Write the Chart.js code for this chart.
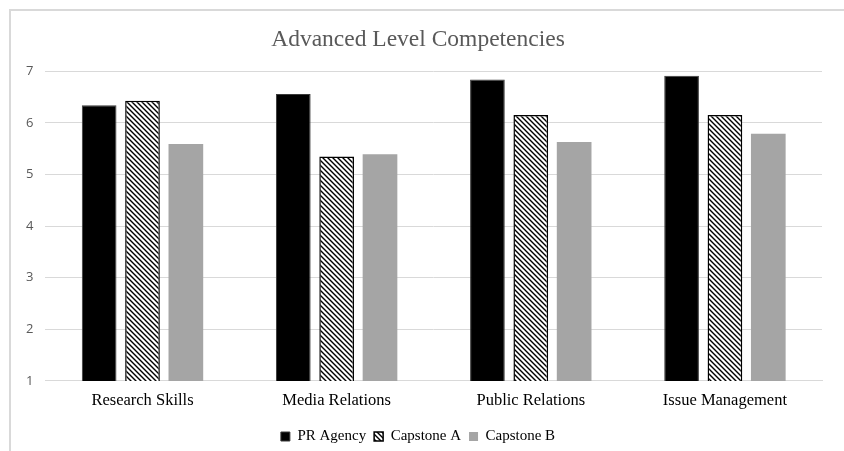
<!DOCTYPE html>
<html>
<head>
<meta charset="utf-8">
<script src="https://cdn.jsdelivr.net/npm/chart.js@4.4.1/dist/chart.umd.min.js"></script>
<style>
  html, body { margin: 0; padding: 0; background: #fff; overflow: hidden; }
  #frame { position: absolute; left: 9px; top: 9px; width: 900px; height: 500px; border: 2px solid #d9d9d9; }
  #wrap { position: absolute; left: 0; top: 0; width: 844px; height: 451px; }
</style>
</head>
<body>
<div id="frame"></div>
<div id="wrap"><canvas id="chart"></canvas></div>
<script>
  // chart values
  const categories = ['Research Skills', 'Media Relations', 'Public Relations', 'Issue Management'];
  const prAgency = [6.34, 6.56, 6.84, 6.91];
  const capstoneA = [6.43, 5.35, 6.15, 6.15];
  const capstoneB = [5.59, 5.39, 5.63, 5.79];
  const yTicks = [1, 2, 3, 4, 5, 6, 7];

  // diagonal hatch like the original (lines run top-left to bottom-right)
  function makeHatch() {
    const size = 5;
    const c = document.createElement('canvas');
    c.width = size;
    c.height = size;
    const g = c.getContext('2d');
    g.fillStyle = '#fff';
    g.fillRect(0, 0, size, size);
    g.strokeStyle = '#000';
    g.lineWidth = 1.4;
    g.beginPath();
    g.moveTo(-1, -1); g.lineTo(size + 1, size + 1);
    g.moveTo(-1, size - 1); g.lineTo(1, size + 1);
    g.moveTo(size - 1, -1); g.lineTo(size + 1, 1);
    g.stroke();
    return g.createPattern(c, 'repeat');
  }
  const hatch = makeHatch();

  const serif = '"Liberation Serif", "Times New Roman", serif';

  const ctx = document.getElementById('chart').getContext('2d');
  new Chart(ctx, {
    type: 'bar',
    data: {
      labels: categories,
      datasets: [
        { label: 'PR Agency', data: prAgency, backgroundColor: '#000', borderColor: '#3a3a3a', borderWidth: 1 },
        { label: 'Capstone A', data: capstoneA, backgroundColor: hatch, borderColor: '#000', borderWidth: 1.5 },
        { label: 'Capstone B', data: capstoneB, backgroundColor: '#a5a5a5', borderWidth: 0 }
      ]
    },
    options: {
      responsive: true,
      maintainAspectRatio: false,
      animation: false,
      categoryPercentage: 0.67,
      barPercentage: 0.8,
      layout: { padding: { left: 14, right: 22, top: 0, bottom: -3 } },
      scales: {
        x: {
          grid: { display: false, drawTicks: false },
          border: { color: '#d9d9d9', width: 1 },
          ticks: { color: '#000', font: { family: serif, size: 16.5, lineHeight: 1.88 }, padding: 4.5 }
        },
        y: {
          min: 1,
          max: 7,
          afterBuildTicks: (axis) => { axis.ticks = yTicks.map(v => ({ value: v })); },
          grid: { color: '#d9d9d9', lineWidth: 1, drawTicks: false },
          border: { display: false },
          ticks: { color: '#595959', font: { family: '"Open Sans", "Liberation Sans", sans-serif', size: 13 }, padding: 12 }
        }
      },
      plugins: {
        title: {
          display: true,
          text: 'Advanced Level Competencies',
          color: '#595959',
          font: { family: serif, size: 23.5, weight: 'normal' },
          padding: { top: 26, bottom: 17 }
        },
        legend: {
          position: 'bottom',
          labels: {
            color: '#000',
            font: { family: serif, size: 15 },
            boxWidth: 9,
            boxHeight: 9,
            padding: 8
          }
        },
        tooltip: { enabled: false }
      }
    }
  });
</script>
</body>
</html>
